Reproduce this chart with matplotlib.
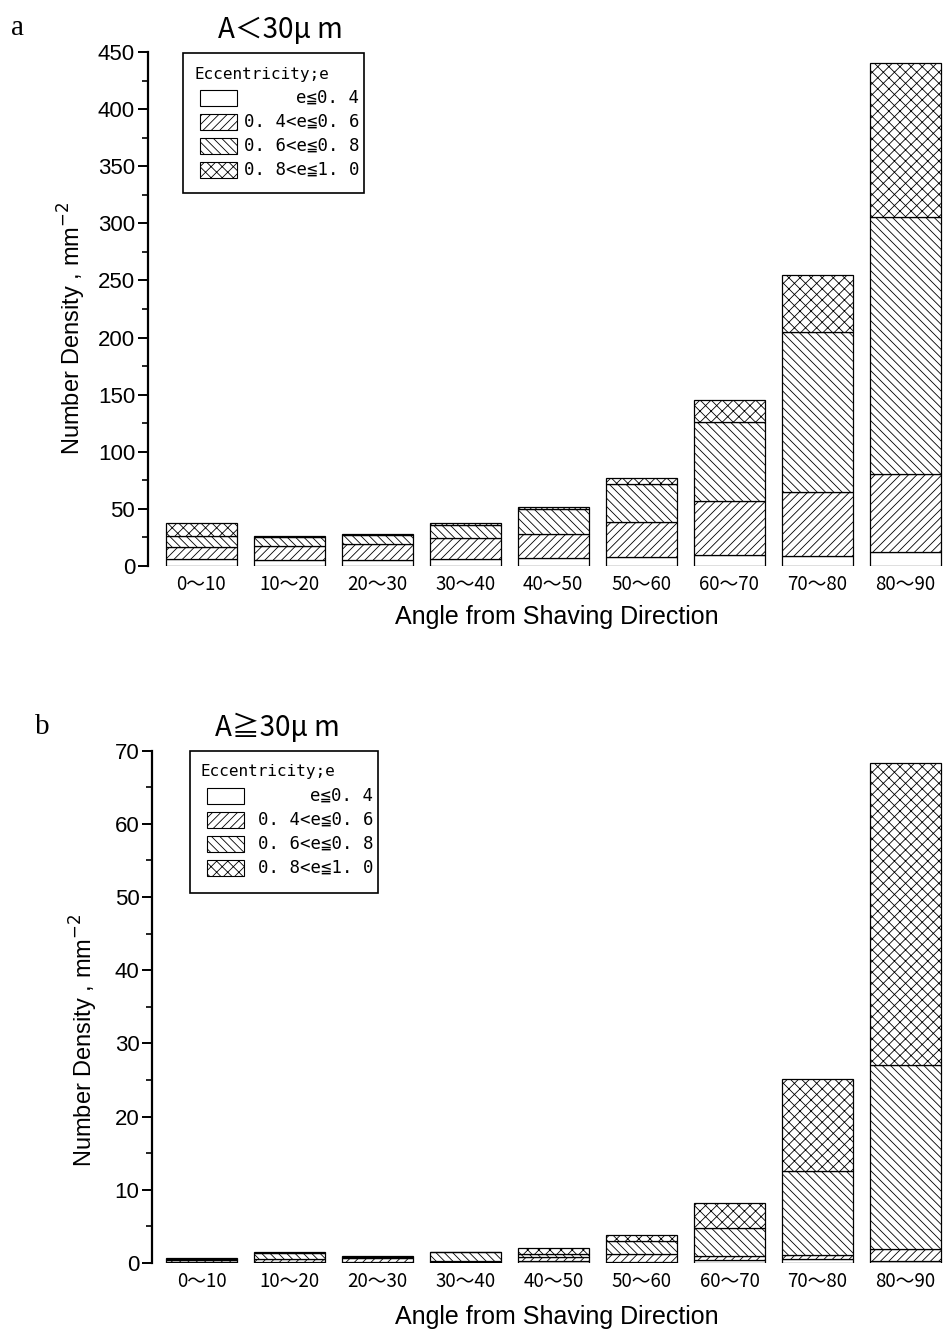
import matplotlib
matplotlib.use('Agg')
import matplotlib.pyplot as plt
from matplotlib.patches import Rectangle
from matplotlib.ticker import MultipleLocator
import numpy as np

plt.rcParams['hatch.linewidth'] = 0.6

W, H = 943, 1331  # figure size in pixels

angles = ['0〜10', '10〜20', '20〜30', '30〜40', '40〜50',
          '50〜60', '60〜70', '70〜80', '80〜90']
classes = ['e≦0. 4', '0. 4<e≦0. 6', '0. 6<e≦0. 8', '0. 8<e≦1. 0']
hatches = ['', '////', '\\\\\\\\', 'xxx']

# panel a : A < 30 um  (number density, mm^-2)
a_e04 = [5.9, 5.3, 5.3, 5.9, 6.7, 7.3, 9.4, 8.8, 11.7]
a_e06 = [10.8, 11.7, 13.4, 18.1, 21.3, 30.6, 47.6, 55.5, 68.4]
a_e08 = [9.3, 7.9, 8.3, 11.9, 22.0, 33.7, 69.2, 140.5, 225.8]
a_e10 = [11.1, 1.4, 0.4, 1.3, 1.1, 4.9, 19.0, 50.2, 134.7]

# panel b : A >= 30 um
b_e04 = [0.15, 0.2, 0.1, 0.1, 0.3, 0.2, 0.45, 0.6, 0.3]
b_e06 = [0.25, 0.35, 0.6, 0.2, 0.52, 1.05, 0.55, 0.45, 1.6]
b_e08 = [0.2, 0.75, 0.15, 1.15, 0.46, 1.73, 3.83, 11.5, 25.1]
b_e10 = [0.15, 0.15, 0.1, 0.1, 0.77, 0.9, 3.37, 12.6, 41.3]

SANS = ['Liberation Sans', 'Noto Sans CJK JP']
CJK = ['Noto Sans CJK JP', 'DejaVu Sans']
MONO = ['DejaVu Sans Mono', 'Noto Sans CJK JP']


def fx(x):
    return x / W


def fy(y):
    return 1 - y / H


def draw_panel(fig, left, y0, y1, ymax, major, minor, xlo, series,
               letter, letter_xy, title, title_xy, ylab_xy, xlab_y, leg):
    ax = fig.add_axes([fx(left), fy(y0), 1 - fx(left), fy(y1) - fy(y0)])
    x = np.arange(len(angles))
    bottom = np.zeros(len(angles))
    for vals, h in zip(series, hatches):
        ax.bar(x, vals, width=0.81, bottom=bottom, color='white',
               edgecolor='black', hatch=h, linewidth=0.9)
        bottom += np.array(vals)

    ax.set_ylim(0, ymax)
    ax.set_xlim(xlo, xlo + (W - left) / 88.0)
    ax.yaxis.set_major_locator(MultipleLocator(major))
    ax.yaxis.set_minor_locator(MultipleLocator(minor))
    for s in ['top', 'right', 'bottom']:
        ax.spines[s].set_visible(False)
    ax.spines['left'].set_linewidth(1.6)
    ax.tick_params(axis='y', which='major', length=7, width=1.4, pad=2)
    ax.tick_params(axis='y', which='minor', length=4.5, width=1.2)
    ax.tick_params(axis='x', length=0, pad=6)
    ax.set_xticks(x, angles)
    for t in ax.get_yticklabels():
        t.set_family(SANS)
        t.set_fontsize(16)
    for t in ax.get_xticklabels():
        t.set_family(CJK)
        t.set_fontsize(13.5)

    fig.text(fx(letter_xy[0]), fy(letter_xy[1]), letter, family='Liberation Serif',
             fontsize=21, ha='center', va='center')
    fig.text(fx(title_xy[0]), fy(title_xy[1]), title, family=CJK,
             fontsize=20, ha='center', va='center')
    fig.text(fx(ylab_xy[0]), fy(ylab_xy[1]), 'Number Density , mm$^{-2}$',
             family=SANS, fontsize=17, rotation=90, ha='center', va='center')
    fig.text(fx(557), fy(xlab_y), 'Angle from Shaving Direction', family=SANS,
             fontsize=18, ha='center', va='center')

    # legend box drawn by hand (labels right aligned like the original)
    bx0, by0, bx1, by1 = leg
    fig.add_artist(Rectangle((fx(bx0), fy(by1)), fx(bx1 - bx0), fy(by0) - fy(by1),
                             transform=fig.transFigure, facecolor='white',
                             edgecolor='black', linewidth=1.2))
    fig.text(fx(bx0 + 11), fy(by0 + 21), 'Eccentricity;e', family=MONO,
             fontsize=11.5, ha='left', va='center')
    for i, (lab, h) in enumerate(zip(classes, hatches)):
        yc = by0 + 45 + 24 * i
        fig.add_artist(Rectangle((fx(bx0 + 17), fy(yc + 8)), fx(37), fy(yc - 8) - fy(yc + 8),
                                 transform=fig.transFigure, facecolor='white',
                                 edgecolor='black', hatch=h, linewidth=0.8))
        fig.text(fx(bx1 - 5), fy(yc), lab, family=MONO, fontsize=12.5,
                 ha='right', va='center')
    return ax


fig = plt.figure(figsize=(W / 100, H / 100), dpi=100)

draw_panel(fig, 147.5, 565.7, 52.3, 450, 50, 25, -0.61,
           [a_e04, a_e06, a_e08, a_e10],
           'a', (17, 28), 'A＜30μ m', (280, 30), (72, 328), 617,
           (183, 53, 364, 193))

draw_panel(fig, 152, 1263, 750.7, 70, 10, 5, -0.5625,
           [b_e04, b_e06, b_e08, b_e10],
           'b', (42, 727), 'A≧30μ m', (277, 728), (84, 1040), 1317,
           (190, 751, 378, 893))

fig.savefig('out.png', dpi=100)
